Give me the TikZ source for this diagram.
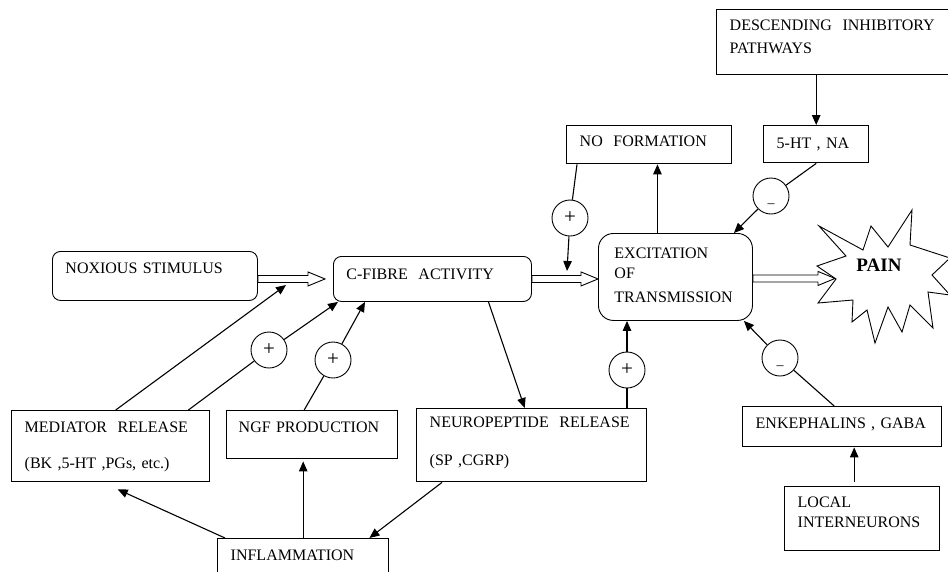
\documentclass[tikz,border=0pt]{standalone}
\usepackage{fontspec}
\setmainfont{Liberation Serif}
\usepackage{tikz}
\usetikzlibrary{positioning,arrows.meta,calc}

\newcommand{\mn}{\smash{\raisebox{-11pt}{\fontsize{14}{14}\selectfont --}}}
\newcommand{\hollowarrow}[2]{%
  \draw[line width=0.9pt, fill=white] let \p1=(#1), \p2=(#2) in
    (\x1,\y1+3.5pt) -- (\x2-17pt,\y1+3.5pt) -- (\x2-17pt,\y1+7pt) -- (\x2,\y1)
    -- (\x2-17pt,\y1-7pt) -- (\x2-17pt,\y1-3.5pt) -- (\x1,\y1-3.5pt) -- cycle;}

\begin{document}
\begin{tikzpicture}[x=1pt, y=-1pt, font=\fontsize{16}{20}\selectfont, >={Triangle[length=10pt,width=8.5pt]},
  bx/.style={draw, line width=1.4pt, anchor=north west, inner xsep=13pt, inner ysep=0pt, align=left},
  rb/.style={bx, line width=0.9pt, rounded corners=8pt},
  sg/.style={circle, draw, line width=0.9pt, minimum size=36pt, inner sep=0pt, font=\fontsize{21}{21}\selectfont},
  m/.style={->, line width=1.1pt}, l/.style={line width=1.1pt}]
\useasboundingbox (0,0) rectangle (948,571);
\clip (0,0) rectangle (948,571);

\node[rb, text width=179pt, text height=22pt, text depth=27pt] (nox) at (52,251) {NOXIOUS STIMULUS};
\node[rb, text width=172pt, text height=23pt, text depth=22pt] (cfib) at (333,256) {C-FIBRE\ \ ACTIVITY};
\node[rb, rounded corners=15pt, inner xsep=16pt, text width=122pt, text height=25pt, text depth=62pt] (exc) at (598,233)
  {EXCITATION\\OF\\[4pt]TRANSMISSION};
\node[bx, text width=139pt, text height=21pt, text depth=17pt] (nof) at (566,125) {NO\ \ FORMATION};
\node[bx, text width=79pt, text height=23pt, text depth=14pt] (fiveht) at (763,125) {5-HT , NA};
\node[bx, text width=224pt, text height=21pt, text depth=44pt] (desc) at (716,9) {DESCENDING\ \ INHIBITORY\\[3pt]PATHWAYS};
\node[bx, text width=204pt, text height=19pt, text depth=54pt] (neur) at (416,408) {NEUROPEPTIDE\ \ RELEASE\\[18pt](SP ,CGRP)};
\node[bx, text width=172pt, text height=22pt, text depth=49pt] (med) at (11,410) {MEDIATOR\ \ RELEASE\\[16pt](BK ,5-HT ,PGs, etc.)};
\node[bx, text width=147pt, inner xsep=12pt, text height=22pt, text depth=26pt] (ngf) at (226,410) {NGF PRODUCTION};
\node[bx, text width=145pt, text height=22pt, text depth=40pt] (infl) at (217,538) {INFLAMMATION};
\node[bx, text width=173pt, text height=22pt, text depth=18pt] (enk) at (742,406) {ENKEPHALINS , GABA};
\node[bx, text width=129pt, text height=21pt, text depth=43pt] (loc) at (784,486) {LOCAL\\INTERNEURONS};

\foreach \n/\x/\y/\s in {pA/570/218/+, mA/771/196/\mn, pB/627/370/+, mB/780/358/\mn, pC/269/350/+, pD/333/360/+}
  \node[sg] (\n) at (\x,\y) {\s};

\draw[line width=0.9pt] (819,226) -- (863,250) -- (871,226) -- (888,247) -- (912,210) -- (910,245) -- (950,258)
  -- (932,275) -- (950,295) -- (928,292) -- (933,328) -- (910,305) -- (902,332) -- (888,307) -- (875,343)
  -- (867,310) -- (852,322) -- (853,300) -- (818,303) -- (836,279) -- (817,266) -- (846,256) -- cycle;
\node[font=\bfseries\fontsize{19}{22}\selectfont] (pain) at (879,265) {PAIN};

\coordinate (jA) at (567,271);
\coordinate (nA) at (286,285);
\coordinate (painL) at (835,278);

\hollowarrow{[yshift=-3pt]nox.east}{[xshift=-8pt]cfib.west}
\hollowarrow{cfib.east}{exc.west}
\hollowarrow{[yshift=-1.5pt]exc.east}{painL}

\draw[l] ([xshift=11pt]nof.south west) -- (pA);
\draw[m] (pA) -- (jA);
\draw[m] ([xshift=-18pt]exc.north) -- ([xshift=-18pt]exc.north |- nof.south);
\draw[m] (desc.south -| fiveht.north) -- (fiveht.north);
\draw[l] (fiveht.south) -- (mA);
\draw[m] (mA) -- ([xshift=-19pt]exc.north east);
\draw[l] ([xshift=-8pt]enk.north) -- (mB);
\draw[m] (mB) -- ([xshift=-9pt]exc.south east);
\draw[m, shorten <=4pt] ([xshift=-8pt]loc.north) -- ([xshift=-8pt]loc.north |- enk.south);
\draw[l] (pB |- neur.north) -- (pB);
\draw[m] (pB) -- (pB |- exc.south);
\draw[m] ([xshift=56pt]cfib.south) -- ([xshift=-7pt]neur.north);
\draw[m] ([xshift=5pt]med.north) -- (nA);
\draw[l] ([xshift=-22pt]med.north east) -- (pC);
\draw[m] (pC) -- ([xshift=5pt]cfib.south west);
\draw[l] ([xshift=-8pt]ngf.north) -- (pD);
\draw[m] (pD) -- ([xshift=32pt]cfib.south west);
\draw[m] ([xshift=8pt]infl.north west) -- ([xshift=7pt,yshift=-7pt]med.south);
\draw[m] (infl.north) -- ([yshift=-2pt]infl.north |- ngf.south);
\draw[m] ([xshift=26pt]neur.south west) -- ([xshift=-20pt]infl.north east);
\end{tikzpicture}
\end{document}
